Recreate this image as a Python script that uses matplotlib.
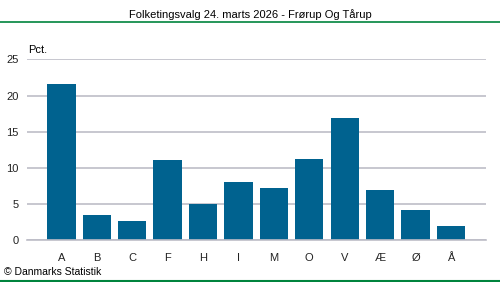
import matplotlib
matplotlib.use('Agg')
import matplotlib.pyplot as plt

plt.rcParams['font.family'] = ['Liberation Sans', 'DejaVu Sans']

parties = ['A', 'B', 'C', 'F', 'H', 'I', 'M', 'O', 'V', 'Æ', 'Ø', 'Å']
pct = [21.6, 3.5, 2.7, 11.1, 5.0, 8.1, 7.2, 11.2, 16.9, 7.0, 4.2, 2.0]
yticks = [0, 5, 10, 15, 20, 25]

bar_color = '#00628F'
grid_color = '#BDBDC7'
green = '#00843D'

fig = plt.figure(figsize=(5, 2.82), dpi=100)
W, H = 500, 282
ax = fig.add_axes([27 / W, 1 - 240.3 / H, (486 - 27) / W, (240.3 - 59.3) / H])

x = list(range(len(parties)))
ax.bar(x, pct, width=0.8, color=bar_color, zorder=2)
ax.set_xlim(-0.97, 11.99)
ax.set_ylim(0, 25)
ax.set_yticks(yticks)
ax.set_xticks(x)
ax.set_xticklabels(parties)
ax.yaxis.grid(True, color=grid_color, linewidth=1.2, zorder=0)
for s in ['top', 'right', 'left']:
    ax.spines[s].set_visible(False)
ax.spines['bottom'].set_color(grid_color)
ax.spines['bottom'].set_linewidth(1.2)
ax.tick_params(axis='both', length=0, labelsize=8, colors='#222222')
ax.tick_params(axis='x', pad=9)
ax.tick_params(axis='y', pad=6)

fig.text(0.5, 1 - 15 / H, 'Folketingsvalg 24. marts 2026 - Frørup Og Tårup',
         ha='center', va='center', fontsize=8)
fig.add_artist(plt.Line2D([0, 1], [1 - 22 / H, 1 - 22 / H], color=green, lw=1.2))
fig.add_artist(plt.Line2D([0, 1], [1 - 281 / H, 1 - 281 / H], color=green, lw=1.5))
fig.text(28 / W, 1 - 50 / H, 'Pct.', ha='left', va='center', fontsize=8)
fig.text(4 / W, 1 - 272 / H, '© Danmarks Statistik', ha='left', va='center', fontsize=7.5)

fig.savefig('out.png', dpi=100)
